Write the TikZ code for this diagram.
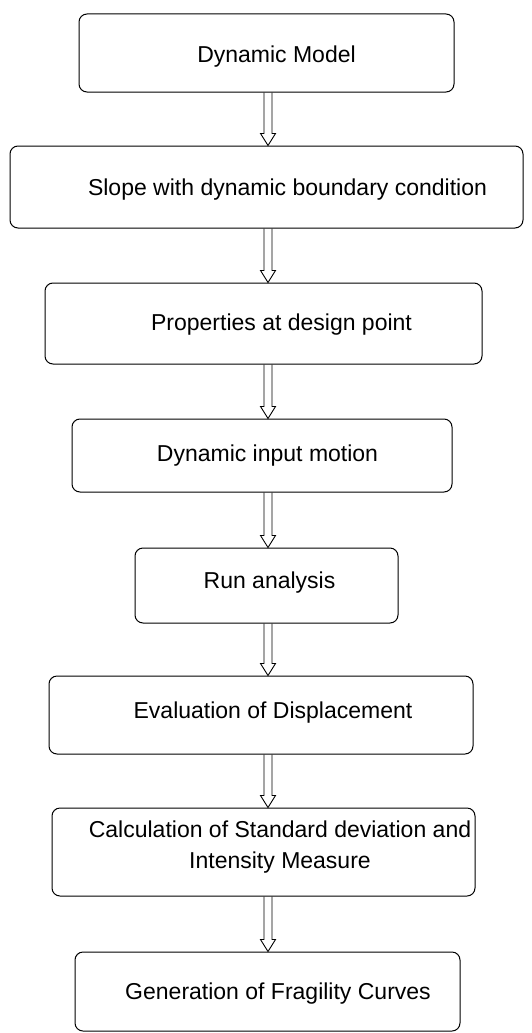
\documentclass[tikz,border=0pt]{standalone}
\usepackage{fontspec}
\setmainfont{Liberation Sans}
\usetikzlibrary{calc}

\begin{document}
\begin{tikzpicture}
  [x=1pt,y=-1pt,
   box/.style={draw,rounded corners=8pt,line width=1pt},
   txt/.style={font=\fontsize{23}{31}\selectfont,inner sep=0pt,align=center},
   harrow/.style={line width=0.9pt,
     to path={($(\tikztostart)+(-4,0)$) -- ($(\tikztotarget)+(-4,-12)$)
       -- ($(\tikztotarget)+(-7.5,-12)$) -- (\tikztotarget)
       -- ($(\tikztotarget)+(7.5,-12)$) -- ($(\tikztotarget)+(4,-12)$)
       -- ($(\tikztostart)+(4,0)$)}}]
  \useasboundingbox (0,0) rectangle (531,1033);
  \coordinate (spine) at (268,0);

  \node[box,minimum width=375pt,minimum height=78pt] (b1) at (266.5,53) {};
  \node[box,minimum width=513pt,minimum height=82pt] (b2) at (266.5,187) {};
  \node[box,minimum width=437pt,minimum height=81pt] (b3) at (263.5,323.5) {};
  \node[box,minimum width=380pt,minimum height=73pt] (b4) at (262,455.5) {};
  \node[box,minimum width=263pt,minimum height=75pt] (b5) at (266.5,585.5) {};
  \node[box,minimum width=424pt,minimum height=78pt] (b6) at (261,715) {};
  \node[box,minimum width=423pt,minimum height=88pt] (b7) at (263.5,852) {};
  \node[box,minimum width=385pt,minimum height=79pt] (b8) at (267.5,991.5) {};

  \node[txt] (t1) at (276.5,57) {Dynamic Model};
  \node[txt] (t2) at (287.5,190) {Slope with dynamic boundary condition};
  \node[txt] (t3) at (281.5,325) {Properties at design point};
  \node[txt] (t4) at (267.5,456) {Dynamic input motion};
  \node[txt] (t5) at (269.5,583) {Run analysis};
  \node[txt] (t6) at (273,713) {Evaluation of Displacement};
  \node[txt] (t7) at (280,847.5) {Calculation of Standard deviation and\\Intensity Measure};
  \node[txt] (t8) at (278,994) {Generation of Fragility Curves};

  \path[draw,harrow]
        (b1.south -| spine) edge (b2.north -| spine)
        (b2.south -| spine) edge (b3.north -| spine)
        (b3.south -| spine) edge (b4.north -| spine)
        (b4.south -| spine) edge (b5.north -| spine)
        (b5.south -| spine) edge (b6.north -| spine)
        (b6.south -| spine) edge (b7.north -| spine)
        (b7.south -| spine) edge (b8.north -| spine);

\end{tikzpicture}
\end{document}
